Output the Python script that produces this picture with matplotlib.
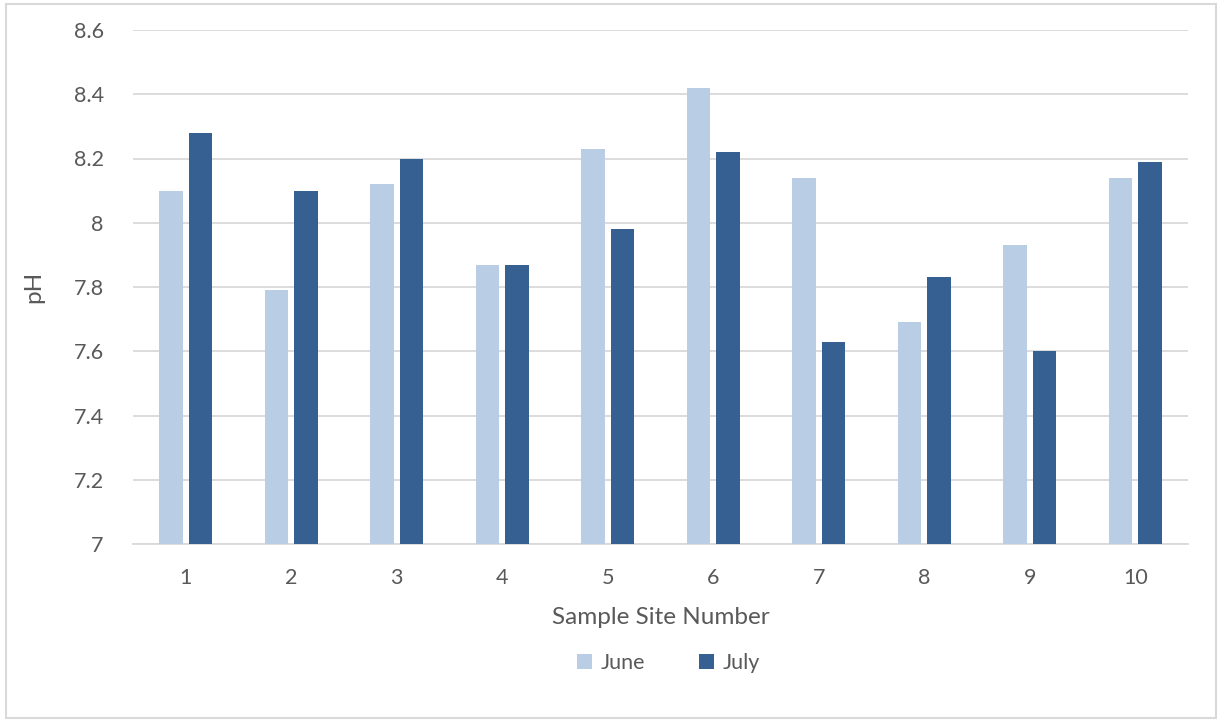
import numpy as np
import matplotlib.pyplot as plt
from matplotlib.patches import Rectangle

plt.rcParams['font.family'] = ['Lato', 'DejaVu Sans']

# pH readings per sample site
sites = ['1', '2', '3', '4', '5', '6', '7', '8', '9', '10']
june = [8.10, 7.79, 8.12, 7.87, 8.23, 8.42, 8.14, 7.69, 7.93, 8.14]
july = [8.28, 8.10, 8.20, 7.87, 7.98, 8.22, 7.63, 7.83, 7.60, 8.19]
yticks = [7, 7.2, 7.4, 7.6, 7.8, 8, 8.2, 8.4, 8.6]
ytick_labels = ['7', '7.2', '7.4', '7.6', '7.8', '8', '8.2', '8.4', '8.6']

c_june = '#B9CDE5'
c_july = '#366092'
txt = '#595959'
grid = '#D9D9D9'

W, H = 1218, 721
fig = plt.figure(figsize=(W / 100, H / 100), dpi=100)
# outer chart frame
fig.patches.append(Rectangle((6 / W, 3 / H), 1210 / W, 714 / H, transform=fig.transFigure,
                             fill=False, edgecolor='#D9D9D9', linewidth=1.5))

ax = fig.add_axes([133 / W, 1 - 544 / H, (1188 - 133) / W, (544 - 30) / H])

x = np.arange(len(sites))
w = 0.223
off = 0.142
ax.bar(x - off, june, w, color=c_june, label='June', zorder=3)
ax.bar(x + off, july, w, color=c_july, label='July', zorder=3)

ax.set_xlim(-0.5, len(sites) - 0.5)
ax.set_ylim(7, 8.6)
ax.set_yticks(yticks)
ax.set_yticklabels(ytick_labels)
ax.set_xticks(x)
ax.set_xticklabels(sites)
ax.yaxis.grid(True, color=grid, linewidth=1.3, zorder=0)
ax.set_axisbelow(True)
for s in ['top', 'right', 'left']:
    ax.spines[s].set_visible(False)
ax.spines['bottom'].set_color(grid)
ax.spines['bottom'].set_linewidth(1.3)
ax.tick_params(axis='both', length=0, labelsize=15.5, colors=txt)
ax.tick_params(axis='y', pad=21)
ax.tick_params(axis='x', pad=17)

ax.set_xlabel('Sample Site Number', fontsize=17.5, color=txt, labelpad=14)
ax.set_ylabel('pH', fontsize=17.5, color=txt, labelpad=21)

ax.legend(loc='upper center', bbox_to_anchor=(0.508, -0.175), ncol=2, frameon=False,
          fontsize=15.5, labelcolor=txt, handlelength=0.7, handleheight=0.7,
          handletextpad=0.4, columnspacing=2.5)

fig.savefig('out.png', dpi=100)
